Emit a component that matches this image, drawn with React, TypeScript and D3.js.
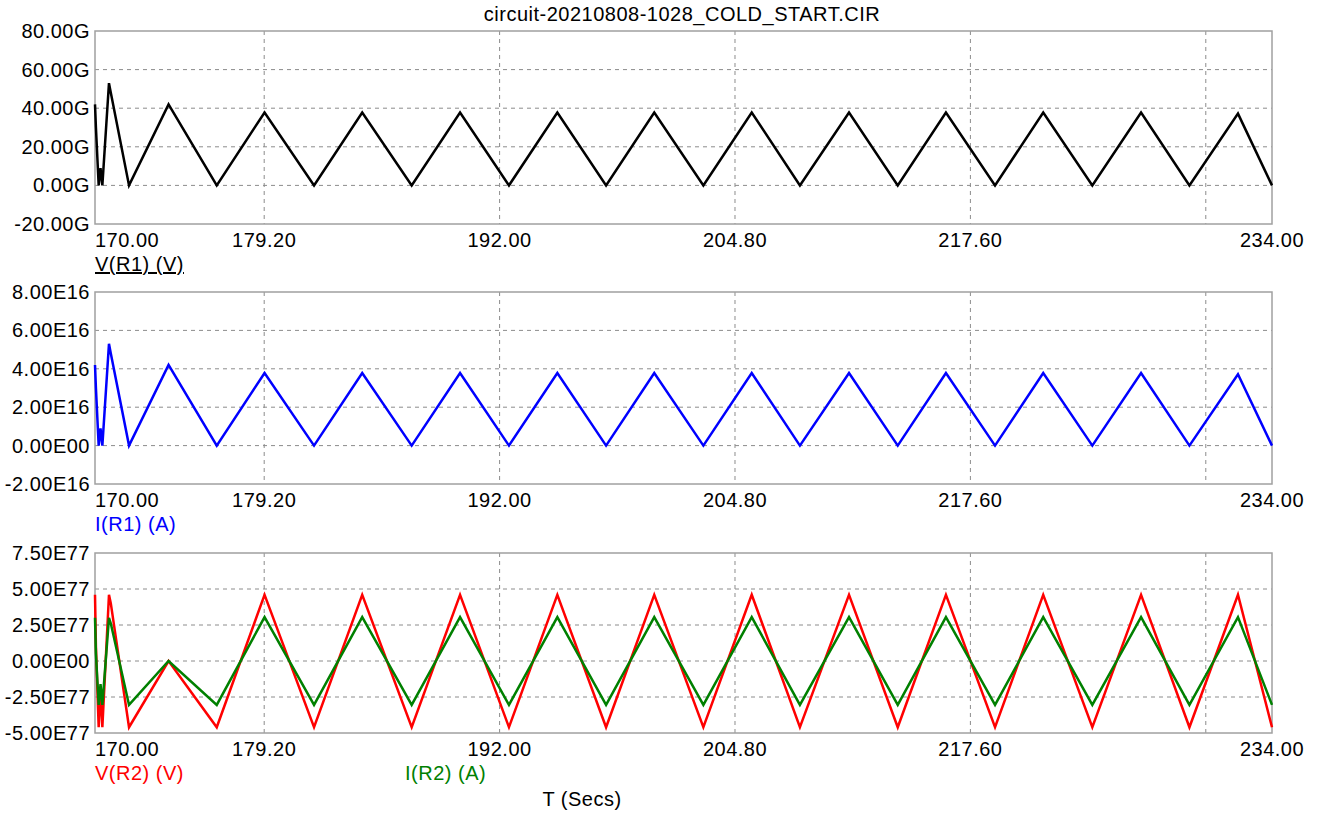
import * as d3 from "d3";
import React from "react";

// sample times (s), shared by every trace
const time = [
  170.0, 170.05, 170.2, 170.3, 170.4, 170.76, 170.86, 171.85, 174.0, 176.62,
  179.22, 181.91, 184.53, 187.22, 189.85, 192.51, 195.14, 197.79, 200.41,
  203.08, 205.71, 208.33, 211.0, 213.65, 216.27, 218.94, 221.56, 224.23,
  226.88, 229.51, 232.15, 234.0,
];

// V(R1) in G
const vR1 = [
  42, 30, 0, 9, 0, 53, 48, 0, 42, 0,
  37.8, 0, 37.8, 0, 37.8, 0, 37.8, 0, 37.8, 0, 37.8, 0, 37.8, 0, 37.8, 0,
  37.8, 0, 37.8, 0, 37.2, 0,
];

// I(R1) in E16
const iR1 = [
  4.2, 3.0, 0, 0.9, 0, 5.3, 4.8, 0, 4.2, 0,
  3.78, 0, 3.78, 0, 3.78, 0, 3.78, 0, 3.78, 0, 3.78, 0, 3.78, 0, 3.78, 0,
  3.78, 0, 3.78, 0, 3.72, 0,
];

// V(R2) in E77
const vR2 = [
  4.6, 1.0, -4.6, -2.0, -4.6, 4.6, 4.0, -4.6, 0, -4.6,
  4.6, -4.6, 4.6, -4.6, 4.6, -4.6, 4.6, -4.6, 4.6, -4.6, 4.6, -4.6, 4.6, -4.6,
  4.6, -4.6, 4.6, -4.6, 4.6, -4.6, 4.6, -4.6,
];

// I(R2) in E77
const iR2 = [
  3.0, 0.5, -3.05, -1.6, -3.05, 3.0, 2.6, -3.05, 0, -3.05,
  3.05, -3.05, 3.05, -3.05, 3.05, -3.05, 3.05, -3.05, 3.05, -3.05, 3.05,
  -3.05, 3.05, -3.05, 3.05, -3.05, 3.05, -3.05, 3.05, -3.05, 3.05, -3.05,
];

const xLabels = [170, 179.2, 192, 204.8, 217.6, 234];
const xGrid = [179.2, 192, 204.8, 217.6, 230.4];
const yTicks1 = [-20, 0, 20, 40, 60, 80];
const yTicks2 = [-2, 0, 2, 4, 6, 8];
const yTicks3 = [-5, -2.5, 0, 2.5, 5, 7.5];

const title = "circuit-20210808-1028_COLD_START.CIR";
const font = "'Liberation Sans', Arial, sans-serif";

const left = 95;
const right = 1272;

export default function App() {
  const x = d3.scaleLinear().domain([170, 234]).range([left, right]);

  const panels = [
    {
      top: 31,
      bottom: 224,
      ticks: yTicks1,
      fmt: (d) => d.toFixed(2) + "G",
      series: [{ values: vR1, color: "#000000" }],
      labels: [{ text: "V(R1) (V)", color: "#000000", x: left, underline: true }],
    },
    {
      top: 292,
      bottom: 484,
      ticks: yTicks2,
      fmt: (d) => (d === 0 ? "0.00E00" : d.toFixed(2) + "E16"),
      series: [{ values: iR1, color: "#0000ff" }],
      labels: [{ text: "I(R1) (A)", color: "#0000ff", x: left }],
    },
    {
      top: 553,
      bottom: 733,
      ticks: yTicks3,
      fmt: (d) => (d === 0 ? "0.00E00" : d.toFixed(2) + "E77"),
      series: [
        { values: vR2, color: "#ff0000" },
        { values: iR2, color: "#008000" },
      ],
      labels: [
        { text: "V(R2) (V)", color: "#ff0000", x: left },
        { text: "I(R2) (A)", color: "#008000", x: 405 },
      ],
    },
  ];

  return (
    <svg
      width={1317}
      height={813}
      style={{ position: "absolute", left: 0, top: 0, background: "#fff" }}
      fontFamily={font}
      fontSize={20}
      letterSpacing={0.5}
    >
      <text x={682} y={21} textAnchor="middle" fill="#000">
        {title}
      </text>
      {panels.map((p, pi) => {
        const y = d3
          .scaleLinear()
          .domain([p.ticks[0], p.ticks[p.ticks.length - 1]])
          .range([p.bottom, p.top]);
        return (
          <g key={pi}>
            {/* grid */}
            <g stroke="#8c8c8c" strokeWidth={1} strokeDasharray="4,4">
              {p.ticks.slice(1, -1).map((t) => (
                <line key={"h" + t} x1={left} x2={right} y1={y(t)} y2={y(t)} />
              ))}
              {xGrid.map((t) => (
                <line key={"v" + t} x1={x(t)} x2={x(t)} y1={p.top} y2={p.bottom} />
              ))}
            </g>
            <rect
              x={left}
              y={p.top}
              width={right - left}
              height={p.bottom - p.top}
              fill="none"
              stroke="#a0a0a0"
              strokeWidth={1.5}
            />
            {p.series.map((s, si) => {
              const pts = time.map((t, i) => [x(t), y(s.values[i])]);
              return (
                <path
                  key={si}
                  d={d3.line()(pts)}
                  fill="none"
                  stroke={s.color}
                  strokeWidth={2.5}
                  strokeLinejoin="miter"
                />
              );
            })}
            {p.ticks.map((t) => (
              <text
                key={"yl" + t}
                x={90}
                y={y(t)}
                textAnchor="end"
                dominantBaseline="central"
                fill="#000"
              >
                {p.fmt(t)}
              </text>
            ))}
            {xLabels.map((t, i) => (
              <text
                key={"xl" + t}
                x={x(t)}
                y={p.bottom + 23}
                textAnchor={i === 0 ? "start" : "middle"}
                fill="#000"
              >
                {t.toFixed(2)}
              </text>
            ))}
            {p.labels.map((l) => (
              <text
                key={l.text}
                x={l.x}
                y={p.bottom + 47}
                fill={l.color}
                style={l.underline ? { textDecoration: "underline" } : undefined}
              >
                {l.text}
              </text>
            ))}
          </g>
        );
      })}
      <text x={582} y={806} textAnchor="middle" fill="#000">
        T (Secs)
      </text>
    </svg>
  );
}
